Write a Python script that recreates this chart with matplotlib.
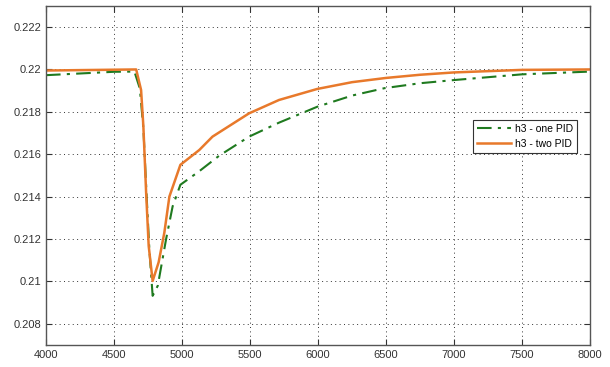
import matplotlib.pyplot as plt

# h3 response, one PID vs two PID
time_one = [4000, 4500, 4650, 4690, 4716, 4740, 4760, 4784, 4822, 4883, 4931,
            4988, 5127, 5273, 5493, 5713, 5994, 6251, 6491, 6750, 7000, 7500, 8000]
h3_one = [0.21973, 0.21989, 0.2199, 0.2191, 0.2172, 0.2140, 0.2115, 0.20932,
          0.2098, 0.2120, 0.21354, 0.21456, 0.2152, 0.21593, 0.21683, 0.21749,
          0.21824, 0.21877, 0.21912, 0.21935, 0.2195, 0.21977, 0.2199]

time_two = [4000, 4663, 4699, 4716, 4736, 4755, 4784, 4828, 4870, 4907, 4988,
            5127, 5224, 5493, 5713, 5994, 6250, 6500, 6750, 7000, 7500, 8000]
h3_two = [0.21995, 0.2200, 0.21903, 0.2173, 0.2142, 0.21167, 0.21002, 0.2109,
          0.2123, 0.2140, 0.2155, 0.2162, 0.21683, 0.21793, 0.21856, 0.21908,
          0.21940, 0.21960, 0.21975, 0.21986, 0.21998, 0.2200]

xticks = [4000, 4500, 5000, 5500, 6000, 6500, 7000, 7500, 8000]
yticks = [0.208, 0.21, 0.212, 0.214, 0.216, 0.218, 0.22, 0.222]
ytick_labels = ["0.208", "0.21", "0.212", "0.214", "0.216", "0.218", "0.22", "0.222"]

plt.rcParams["font.family"] = ["Liberation Sans", "DejaVu Sans"]

fig = plt.figure(figsize=(6.1, 3.67), dpi=100)
ax = fig.add_axes([0.0754, 0.060, 0.892, 0.924])

ax.plot(time_one, h3_one, color="#1f7a1f", linestyle=(0, (7, 3, 1.5, 3)),
        linewidth=1.5, label="h3 - one PID")
ax.plot(time_two, h3_two, color="#e8792b", linestyle="-", linewidth=1.8,
        label="h3 - two PID")

ax.set_xlim(4000, 8000)
ax.set_ylim(0.207, 0.223)
ax.set_xticks(xticks)
ax.set_xticklabels([str(t) for t in xticks])
ax.set_yticks(yticks)
ax.set_yticklabels(ytick_labels)
ax.tick_params(direction="in", length=4, labelsize=8, colors="#333333",
               top=True, right=True)
ax.grid(True, linestyle=(0, (1, 3.5)), color="#333333", linewidth=0.7)

for s in ax.spines.values():
    s.set_color("#555555")
    s.set_linewidth(1.0)

leg = ax.legend(loc="upper right", bbox_to_anchor=(0.986, 0.68), fontsize=7.5,
                fancybox=False, framealpha=1, edgecolor="#333333",
                borderpad=0.4, handlelength=3.2, handletextpad=0.4)
leg.get_frame().set_linewidth(0.8)

fig.savefig("out.png", dpi=100)
